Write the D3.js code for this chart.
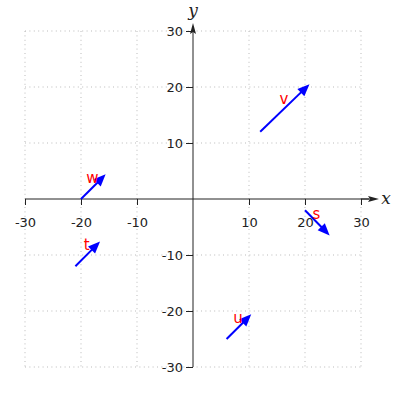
<!DOCTYPE html>
<html><head><meta charset="utf-8">
<script src="https://cdn.jsdelivr.net/npm/d3@7"></script>
<style>body{margin:0;background:#fff}svg{display:block}</style>
</head><body>
<script>
const labels = ["v", "w", "t", "s", "u"];
const x0 = [12, -20, -21, 20, 6];
const y0 = [12, 0, -12, -2, -25];
const dx = [8.8, 4.4, 4.4, 4.4, 4.4];
const dy = [8.5, 4.4, 4.4, -4.5, 4.4];
const tickVals = [-30, -20, -10, 10, 20, 30];

const W = 400, H = 400;
const svg = d3.select("body").append("svg").attr("width", W).attr("height", H);
const x = d3.scaleLinear().domain([-30, 30]).range([25, 361]);
const y = d3.scaleLinear().domain([-30, 30]).range([367, 31]);
const axisColor = "#222";
const font = "DejaVu Sans, sans-serif";

// grid
const g = svg.append("g").attr("stroke", "#bbb").attr("stroke-width", 1).attr("stroke-dasharray", "1,3.4");
tickVals.forEach(v => {
  g.append("line").attr("x1", x(v)).attr("x2", x(v)).attr("y1", y(30)).attr("y2", y(-30));
  g.append("line").attr("y1", y(v)).attr("y2", y(v)).attr("x1", x(-30)).attr("x2", x(30));
});

// axes
const xAxis = d3.axisBottom(x).tickValues(tickVals).tickSize(6).tickPadding(13).tickFormat(d => String(d));
const xg = svg.append("g").attr("transform", `translate(0,${y(0)})`).call(xAxis);
const yAxis = d3.axisLeft(y).tickValues(tickVals).tickSize(7).tickPadding(3).tickFormat(d => String(d));
const yg = svg.append("g").attr("transform", `translate(${x(0)},0)`).call(yAxis);
[xg, yg].forEach(a => {
  a.select(".domain").remove();
  a.selectAll("line").attr("stroke", axisColor);
  a.selectAll("text").attr("fill", axisColor).style("font-family", font).style("font-size", "13px");
});
svg.append("line").attr("x1", x(-30)).attr("x2", x(30) + 8).attr("y1", y(0)).attr("y2", y(0)).attr("stroke", axisColor);
svg.append("line").attr("x1", x(0)).attr("x2", x(0)).attr("y1", y(-30)).attr("y2", y(30) - 1).attr("stroke", axisColor);
// axis arrowheads
const xe = 379, ye = 23;
svg.append("path").attr("d", `M${xe},${y(0)} L${xe - 11},${y(0) - 3} L${xe - 9},${y(0)} L${xe - 11},${y(0) + 3} Z`).attr("fill", axisColor);
svg.append("line").attr("x1", x(30)).attr("x2", xe - 9).attr("y1", y(0)).attr("y2", y(0)).attr("stroke", axisColor);
svg.append("path").attr("d", `M${x(0)},${ye} L${x(0) - 3},${ye + 11} L${x(0)},${ye + 9} L${x(0) + 3},${ye + 11} Z`).attr("fill", axisColor);
svg.append("text").attr("x", 386).attr("y", y(0) + 5).attr("text-anchor", "middle")
  .style("font-family", "DejaVu Serif, serif").style("font-style", "italic").style("font-size", "17px").attr("fill", axisColor).text("x");
svg.append("text").attr("x", x(0)).attr("y", 16).attr("text-anchor", "middle")
  .style("font-family", "DejaVu Serif, serif").style("font-style", "italic").style("font-size", "17px").attr("fill", axisColor).text("y");

// vectors
const vg = svg.append("g");
labels.forEach((lab, i) => {
  const px0 = x(x0[i]), py0 = y(y0[i]);
  const px1 = x(x0[i] + dx[i]), py1 = y(y0[i] + dy[i]);
  const ang = Math.atan2(py1 - py0, px1 - px0);
  const hl = 12, hw = 5;
  const bx = px1 - hl * Math.cos(ang), by = py1 - hl * Math.sin(ang);
  vg.append("line").attr("x1", px0).attr("y1", py0).attr("x2", bx + 2 * Math.cos(ang)).attr("y2", by + 2 * Math.sin(ang))
    .attr("stroke", "#0000ff").attr("stroke-width", 2);
  const nx = -Math.sin(ang), ny = Math.cos(ang);
  vg.append("path").attr("d", `M${px1},${py1} L${bx + hw * nx},${by + hw * ny} L${bx - hw * nx},${by - hw * ny} Z`).attr("fill", "#0000ff");
  const mx = (px0 + px1) / 2, my = (py0 + py1) / 2;
  vg.append("text").attr("x", mx - 1).attr("y", my - 4).attr("text-anchor", "middle")
    .style("font-family", font).style("font-size", "15px").attr("fill", "#ff0000").text(lab);
});
</script>
</body></html>
